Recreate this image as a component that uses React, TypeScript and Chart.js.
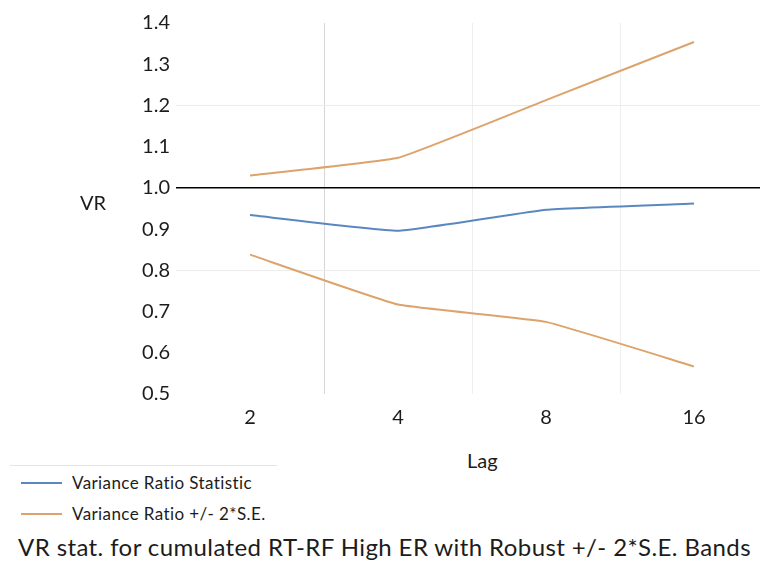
import React, { useEffect, useRef } from "react";
import { Chart, registerables } from "chart.js";

Chart.register(...registerables);

const lags = ["2", "4", "8", "16"];
const vrStatistic = [0.934, 0.896, 0.947, 0.962];
const upperBand = [1.03, 1.073, 1.213, 1.354];
const lowerBand = [0.838, 0.717, 0.675, 0.567];
const yMin = 0.5;
const yMax = 1.4;
const yStep = 0.1;

const BLUE = "#5b87c0";
const ORANGE = "#dca46c";
const FONT = "Lato, 'Open Sans', sans-serif";
const TEXT = "#1c1c1c";

export default function App() {
  const canvasRef = useRef<HTMLCanvasElement | null>(null);

  useEffect(() => {
    const canvas = canvasRef.current;
    if (!canvas) return;
    const chart = new Chart(canvas, {
      type: "line",
      data: {
        labels: lags,
        datasets: [
          {
            label: "Variance Ratio Statistic",
            data: vrStatistic,
            borderColor: BLUE,
            borderWidth: 2,
            pointRadius: 0,
            tension: 0.1,
          },
          {
            label: "Variance Ratio +/- 2*S.E.",
            data: upperBand,
            borderColor: ORANGE,
            borderWidth: 2,
            pointRadius: 0,
            tension: 0.1,
          },
          {
            label: "Variance Ratio +/- 2*S.E. (lower)",
            data: lowerBand,
            borderColor: ORANGE,
            borderWidth: 2,
            pointRadius: 0,
            tension: 0.1,
          },
        ],
      },
      options: {
        animation: false,
        responsive: false,
        maintainAspectRatio: false,
        layout: { padding: { top: 23, right: 2, bottom: 0, left: 0 } },
        plugins: {
          legend: { display: false },
          tooltip: { enabled: false },
          title: { display: false },
        },
        scales: {
          x: {
            type: "category",
            offset: true,
            border: { display: false },
            grid: {
              offset: true,
              drawTicks: false,
              color: (ctx: any) => {
                const i = ctx.index;
                if (i === 1) return "#d6d6d6";
                if (i === 2 || i === 3) return "#eeeeee";
                return "rgba(0,0,0,0)";
              },
            },
            ticks: {
              font: { family: FONT, size: 20 },
              color: TEXT,
              padding: 12,
              maxRotation: 0,
            },
            afterFit: (scale: any) => {
              scale.height = 46;
            },
          },
          y: {
            min: yMin,
            max: yMax,
            border: { display: false },
            grid: {
              drawTicks: false,
              color: (ctx: any) => {
                const v = ctx.tick ? ctx.tick.value : NaN;
                if (Math.abs(v - 1) < 1e-6) return "#000000";
                if (Math.abs(v - 1.2) < 1e-6 || Math.abs(v - 0.8) < 1e-6) return "#ececec";
                return "rgba(0,0,0,0)";
              },
              lineWidth: (ctx: any) => {
                const v = ctx.tick ? ctx.tick.value : NaN;
                return Math.abs(v - 1) < 1e-6 ? 1.5 : 1;
              },
            },
            ticks: {
              stepSize: yStep,
              font: { family: FONT, size: 20 },
              color: TEXT,
              padding: 6,
              callback: (v: any) => Number(v).toFixed(1),
            },
            afterFit: (scale: any) => {
              scale.width = 176;
            },
          },
        },
      },
    });
    return () => chart.destroy();
  }, []);

  const legendRow = (color: string, label: string, top: number) => (
    <div style={{ position: "absolute", left: 0, top, height: 20, width: 300 }}>
      <div
        style={{
          position: "absolute",
          left: 21,
          top: 9,
          width: 41,
          height: 2,
          background: color,
        }}
      />
      <div
        style={{
          position: "absolute",
          left: 72,
          top: 0,
          lineHeight: "20px",
          fontSize: 17,
          letterSpacing: "0.4px",
          fontFamily: FONT,
          color: TEXT,
          whiteSpace: "nowrap",
        }}
      >
        {label}
      </div>
    </div>
  );

  return (
    <div
      style={{
        position: "fixed",
        left: 0,
        top: 0,
        width: 760,
        height: 566,
        overflow: "hidden",
        background: "#ffffff",
      }}
    >
      <canvas
        ref={canvasRef}
        width={770}
        height={440}
        style={{ position: "absolute", left: 0, top: 0, width: 770, height: 440 }}
      />
      <div
        style={{
          position: "absolute",
          left: 80,
          top: 192,
          fontFamily: FONT,
          fontSize: 20,
          lineHeight: "20px",
          color: TEXT,
        }}
      >
        VR
      </div>
      <div
        style={{
          position: "absolute",
          left: 467,
          top: 450,
          fontFamily: FONT,
          fontSize: 20,
          lineHeight: "20px",
          color: TEXT,
        }}
      >
        Lag
      </div>
      <div
        style={{
          position: "absolute",
          left: 10,
          top: 465,
          width: 267,
          height: 1,
          background: "#e4e4e4",
        }}
      />
      {legendRow(BLUE, "Variance Ratio Statistic", 473)}
      {legendRow(ORANGE, "Variance Ratio +/- 2*S.E.", 504)}
      <div
        style={{
          position: "absolute",
          left: 18,
          top: 535,
          fontFamily: FONT,
          fontSize: 24,
          letterSpacing: "0.4px",
          lineHeight: "24px",
          color: TEXT,
          whiteSpace: "nowrap",
        }}
      >
        VR stat. for cumulated RT-RF High ER with Robust +/- 2*S.E. Bands
      </div>
    </div>
  );
}
